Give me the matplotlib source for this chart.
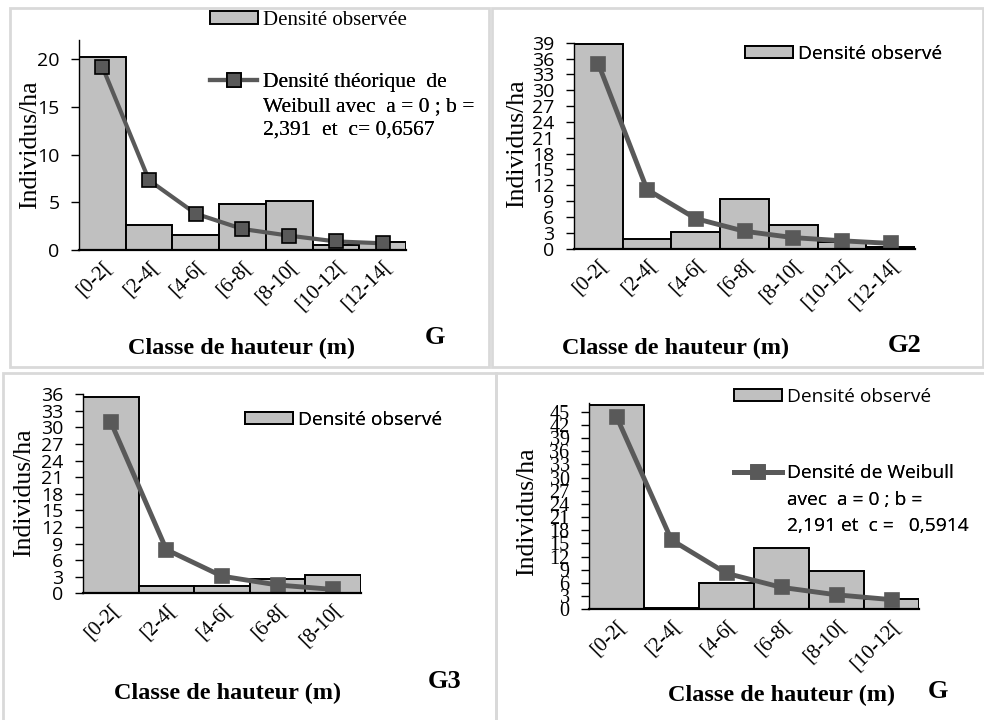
import matplotlib
matplotlib.use("Agg")
import matplotlib.pyplot as plt
from matplotlib.patches import Rectangle
from matplotlib.lines import Line2D
import numpy as np

W, H = 984, 720
SERIF = "Liberation Serif"
SANS = "Open Sans"
BAR_COLOR = "#c0c0c0"
LINE_COLOR = "#595959"

# classes de hauteur
classes = ["[0-2[", "[2-4[", "[4-6[", "[6-8[", "[8-10[", "[10-12[", "[12-14["]

# G (haut gauche)
g1_obs = [20.2, 2.6, 1.6, 4.8, 5.1, 0.5, 0.8]
g1_weib = [19.2, 7.3, 3.8, 2.2, 1.5, 0.9, 0.7]
# G2
g2_obs = [38.7, 1.8, 3.1, 9.5, 4.4, 1.2, 0.4]
g2_weib = [35.0, 11.2, 5.7, 3.3, 2.1, 1.5, 1.0]
# G3
g3_obs = [35.6, 1.3, 1.3, 2.6, 3.4]
g3_weib = [31.0, 7.9, 3.1, 1.5, 0.7]
# G (bas droite)
g4_obs = [46.5, 0.4, 5.9, 14.0, 8.7, 2.4]
g4_weib = [43.9, 15.8, 8.2, 5.0, 3.3, 2.2]

fig = plt.figure(figsize=(W / 100, H / 100), dpi=100)


def fx(x):
    return x / W


def fy(y):
    return 1 - y / H


def frame(x0, y0, x1, y1):
    fig.patches.append(Rectangle((fx(x0), fy(y1)), (x1 - x0) / W, (y1 - y0) / H,
                                 transform=fig.transFigure, fill=False,
                                 edgecolor="#d9d9d9", lw=2, zorder=-5))


def make_axes(left, right, top, bottom):
    return fig.add_axes([fx(left), fy(bottom), (right - left) / W, (bottom - top) / H])


def draw(ax, obs, weib, ymax, ytop, ystep, tick_font, tick_size, mec, lw, ms):
    cats = classes[:len(obs)]
    x = np.arange(len(cats))
    bars = ax.bar(x, obs, width=1.0, color=BAR_COLOR, edgecolor="black", linewidth=1.4)
    line, = ax.plot(x, weib, color=LINE_COLOR, lw=lw, marker="s", markersize=ms,
                    markerfacecolor=LINE_COLOR, markeredgecolor=mec, markeredgewidth=1.2)
    ax.set_xlim(-0.5, len(cats) - 0.5)
    ax.set_ylim(0, ymax)
    ax.set_yticks(np.arange(0, ytop + 1, ystep))
    ax.set_xticks(x)
    ax.set_xticklabels(cats, rotation=45, ha="right", va="top", rotation_mode="anchor",
                       fontfamily=SERIF, fontsize=15)
    for lab in ax.get_yticklabels():
        lab.set_fontfamily(tick_font)
        lab.set_fontsize(tick_size)
    ax.tick_params(axis="x", length=0, pad=5)
    ax.tick_params(axis="y", length=6, width=1, pad=8, color="black")
    ax.spines["top"].set_visible(False)
    ax.spines["right"].set_visible(False)
    ax.spines["left"].set_linewidth(1)
    ax.spines["bottom"].set_linewidth(1.6)
    ax.set_facecolor("none")
    return bars, line


def legend(ax, handles, labels, x, y, font, size, hl, hh, spacing=0.3):
    leg = ax.legend(handles, labels, loc="upper left", bbox_to_anchor=(fx(x), fy(y)),
                    bbox_transform=fig.transFigure, frameon=False, borderpad=0,
                    borderaxespad=0, handlelength=hl, handleheight=hh,
                    handletextpad=0.25, labelspacing=spacing,
                    prop={"family": font, "size": size})
    ax.add_artist(leg)


def labels(ax, ylab_xy, xlab_xy, tag, tag_xy):
    ax.set_ylabel("Individus/ha", fontfamily=SERIF, fontsize=18.5)
    ax.yaxis.set_label_coords(fx(ylab_xy[0]), fy(ylab_xy[1]), transform=fig.transFigure)
    ax.yaxis.label.set_verticalalignment("center")
    fig.text(fx(xlab_xy[0]), fy(xlab_xy[1]), "Classe de hauteur (m)", ha="center",
             va="center", fontfamily=SERIF, fontweight="bold", fontsize=17.5)
    fig.text(fx(tag_xy[0]), fy(tag_xy[1]), tag, ha="center", va="center",
             fontfamily=SERIF, fontweight="bold", fontsize=19)


blank = Line2D([], [], linestyle="none")

# cadres des quatre graphiques
frame(10, 8, 489, 367)
frame(492, 8, 983, 367)
frame(3, 373, 496, 724)
frame(496, 373, 988, 724)

# Graphique G
ax1 = make_axes(79, 406, 40, 250)
b, l = draw(ax1, g1_obs, g1_weib, 22, 20, 5, SANS, 14, "black", 3, 9.5)
legend(ax1, [b], ["Densité observée"], 210, 11, SERIF, 15, 2.3, 0.55)
legend(ax1, [l, blank, blank],
       ["Densité théorique  de", "Weibull avec  a = 0 ; b =", "2,391  et  c= 0,6567"],
       210, 73, SERIF, 15.5, 2.2, 0.55, spacing=0.22)
labels(ax1, (30, 145), (242, 348), "G", (435, 338))

# Graphique G2
ax2 = make_axes(574, 915, 42.7, 248.7)
b, l = draw(ax2, g2_obs, g2_weib, 39, 39, 3, SANS, 14, LINE_COLOR, 3.5, 10.5)
legend(ax2, [b], ["Densité observé"], 745, 45, SANS, 13.8, 2.5, 0.6)
labels(ax2, (517, 144), (676, 348), "G2", (905, 345))

# Graphique G3
ax3 = make_axes(83, 361, 394.3, 593.3)
b, l = draw(ax3, g3_obs, g3_weib, 36, 36, 3, SANS, 14, LINE_COLOR, 3.5, 10.5)
legend(ax3, [b], ["Densité observé"], 245, 411, SANS, 13.8, 2.5, 0.6)
labels(ax3, (24, 493), (228, 693), "G3", (445, 682))

# Graphique G (bas droite)
ax4 = make_axes(589, 919, 403, 609.3)
b, l = draw(ax4, g4_obs, g4_weib, 47, 45, 3, SERIF, 14.5, LINE_COLOR, 3.5, 10.5)
legend(ax4, [b], ["Densité observé"], 734, 388, SANS, 13.8, 2.5, 0.6)
legend(ax4, [l, blank, blank],
       ["Densité de Weibull", "avec  a = 0 ; b =", "2,191 et  c =   0,5914"],
       734, 464, SANS, 13.8, 2.5, 0.6, spacing=0.45)
labels(ax4, (527, 512), (782, 695), "G", (938, 692))

fig.savefig("out.png", dpi=100)
